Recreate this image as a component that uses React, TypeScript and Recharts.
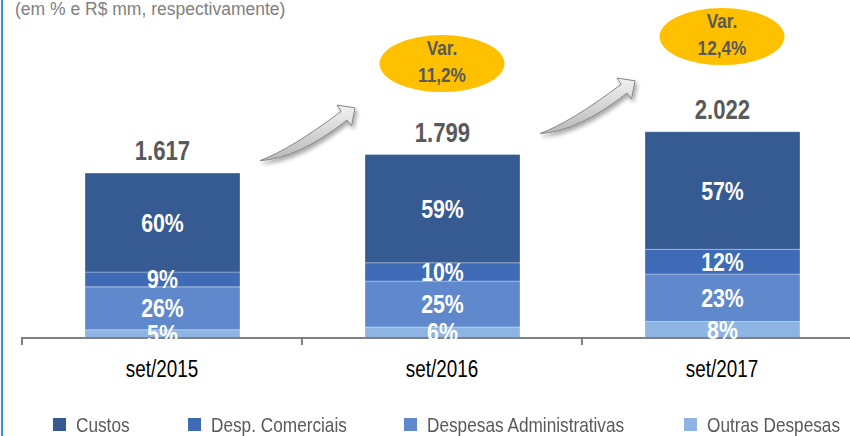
import React from "react"
import { BarChart, Bar, XAxis, YAxis, LabelList, ReferenceDot } from "recharts"

const categories = ["set/2015", "set/2016", "set/2017"]
const totals = [1617, 1799, 2022]
const custosPct = [60, 59, 57]
const comerciaisPct = [9, 10, 12]
const administrativasPct = [26, 25, 23]
const outrasPct = [5, 6, 8]
const variations = ["11,2%", "12,4%"]

const baseFont = "'Liberation Sans', Arial, sans-serif"
// no Arial Narrow available: squeeze Liberation Sans horizontally instead
const SX = 0.82

// stacked bottom -> top
const series = [
  { key: "outras", name: "Outras Despesas", pct: outrasPct, color: "#8DB4E2" },
  { key: "administrativas", name: "Despesas Administrativas", pct: administrativasPct, color: "#5F89CC" },
  { key: "comerciais", name: "Desp. Comerciais", pct: comerciaisPct, color: "#3F6BB6" },
  { key: "custos", name: "Custos", pct: custosPct, color: "#365A92" },
]

const data = categories.map((name, i) => {
  const row: any = { name, total: totals[i] }
  series.forEach((s) => {
    row[s.key] = (totals[i] * s.pct[i]) / 100
    row[s.key + "Pct"] = s.pct[i]
  })
  return row
})

const fmt = (v: number) => String(v).replace(/\B(?=(\d{3})+(?!\d))/g, ".")

let ctx: CanvasRenderingContext2D | null = null
const measure = (text: string, font: string) => {
  if (!ctx) ctx = document.createElement("canvas").getContext("2d")
  if (!ctx) return text.length * 10
  ctx.font = font
  return ctx.measureText(text).width
}

const NText = ({ x, y, children, ...rest }: any) => (
  <g transform={`translate(${x},${y}) scale(${SX},1)`}>
    <text x={0} y={0} textAnchor="middle" fontFamily={baseFont} {...rest}>
      {children}
    </text>
  </g>
)

const PctLabel = (props: any) => {
  const x = Number(props.x), y = Number(props.y), w = Number(props.width), h = Number(props.height)
  return (
    <NText x={x + w / 2} y={y + h / 2 + 9} fill="#fff" fontSize={26} fontWeight="bold">
      {props.value}%
    </NText>
  )
}

const TotalLabel = (props: any) => {
  const x = Number(props.x), y = Number(props.y), w = Number(props.width)
  return (
    <NText x={x + w / 2} y={y - 13} fill="#595959" fontSize={27} fontWeight="bold">
      {fmt(props.value)}
    </NText>
  )
}

const CategoryTick = ({ x, y, payload }: any) => (
  <g>
    <line x1={x - 140} x2={x - 140} y1={y - 1} y2={y + 7} stroke="#808080" strokeWidth={2} />
    <NText x={x} y={y + 39} fill="#000" fontSize={23}>
      {payload.value}
    </NText>
  </g>
)

const Arrow = ({ id }: { id: string }) => (
  <g filter={`url(#sh-${id})`}>
    <defs>
      <linearGradient id={`gr-${id}`} x1="0" y1="0" x2="0" y2="1">
        <stop offset="0" stopColor="#f2f2f2" />
        <stop offset="1" stopColor="#b8b8b8" />
      </linearGradient>
      <filter id={`sh-${id}`} x="-30%" y="-30%" width="160%" height="160%">
        <feDropShadow dx="2" dy="3" stdDeviation="2" floodColor="#000" floodOpacity="0.35" />
      </filter>
    </defs>
    <path
      d="M0,0 Q38,-2 87,-40.5 L91.5,-34.5 L95,-52.8 L77,-55.5 L81.2,-49.2 Q30,-11 0,0 Z"
      fill={`url(#gr-${id})`}
      stroke="#858585"
      strokeWidth={1}
      strokeLinejoin="round"
    />
  </g>
)

const Badge = (label: string, id: string) => (props: any) => {
  const { cx, cy } = props
  return (
    <g>
      <g transform={`translate(${cx - 182}, ${cy + 97})`}>
        <Arrow id={id} />
      </g>
      <ellipse cx={cx} cy={cy} rx={62.5} ry={28.5} fill="#FFC000" />
      <NText x={cx} y={cy - 9} fill="#595959" fontSize={21} fontWeight="bold">
        Var.
      </NText>
      <NText x={cx} y={cy + 18} fill="#595959" fontSize={21} fontWeight="bold">
        {label}
      </NText>
    </g>
  )
}

const badgeLevels = [2690, 2955]

const LegendItem = ({ name, color }: { name: string; color: string }) => {
  const w = measure(name, `21px ${baseFont}`) * SX
  return (
    <div style={{ display: "flex", alignItems: "flex-start", marginRight: 58 }}>
      <div style={{ width: 13, height: 13, marginTop: 3, marginRight: 10, background: color }} />
      <div style={{ width: w, overflow: "visible" }}>
        <span style={{ display: "inline-block", transform: `scaleX(${SX})`, transformOrigin: "0 0" }}>{name}</span>
      </div>
    </div>
  )
}

export default function App() {
  const legendOrder = [...series].reverse()
  return (
    <div style={{ position: "fixed", left: 0, top: 0, width: 850, height: 436, overflow: "hidden", background: "#fff" }}>
      <div style={{ position: "absolute", left: 1, top: 0, width: 2, height: 436, background: "#2E95D3" }} />
      <div
        style={{
          position: "absolute",
          left: 15,
          top: 1,
          fontFamily: baseFont,
          fontSize: 17.5,
          lineHeight: "17.5px",
          color: "#808080",
          whiteSpace: "nowrap",
        }}
      >
        (em % e R$ mm, respectivamente)
      </div>
      <div style={{ position: "absolute", left: 0, top: 0 }}>
        <BarChart width={880} height={436} data={data} margin={{ top: 83, right: 18, left: 22, bottom: 58 }}>
          <YAxis hide domain={[0, 2500]} />
          <XAxis
            dataKey="name"
            height={40}
            axisLine={{ stroke: "#808080", strokeWidth: 2 }}
            tickLine={false}
            tickSize={0}
            tickMargin={0}
            tick={<CategoryTick />}
            interval={0}
          />
          {series.map((s) => (
            <Bar
              key={s.key}
              dataKey={s.key}
              stackId="a"
              fill={s.color}
              stroke="rgba(255,255,255,0.3)"
              strokeWidth={1}
              barSize={155}
              isAnimationActive={false}
            >
              <LabelList dataKey={s.key + "Pct"} content={<PctLabel />} />
              {s.key === "custos" && <LabelList dataKey="total" content={<TotalLabel />} />}
            </Bar>
          ))}
          <ReferenceDot x={categories[1]} y={badgeLevels[0]} ifOverflow="visible" shape={Badge(variations[0], "a1")} />
          <ReferenceDot x={categories[2]} y={badgeLevels[1]} ifOverflow="visible" shape={Badge(variations[1], "a2")} />
        </BarChart>
      </div>
      <div
        style={{
          position: "absolute",
          left: 53,
          top: 415,
          display: "flex",
          alignItems: "flex-start",
          fontFamily: baseFont,
          fontSize: 21,
          lineHeight: "20px",
          color: "#595959",
          whiteSpace: "nowrap",
        }}
      >
        {legendOrder.map((s) => (
          <LegendItem key={s.key} name={s.name} color={s.color} />
        ))}
      </div>
    </div>
  )
}
